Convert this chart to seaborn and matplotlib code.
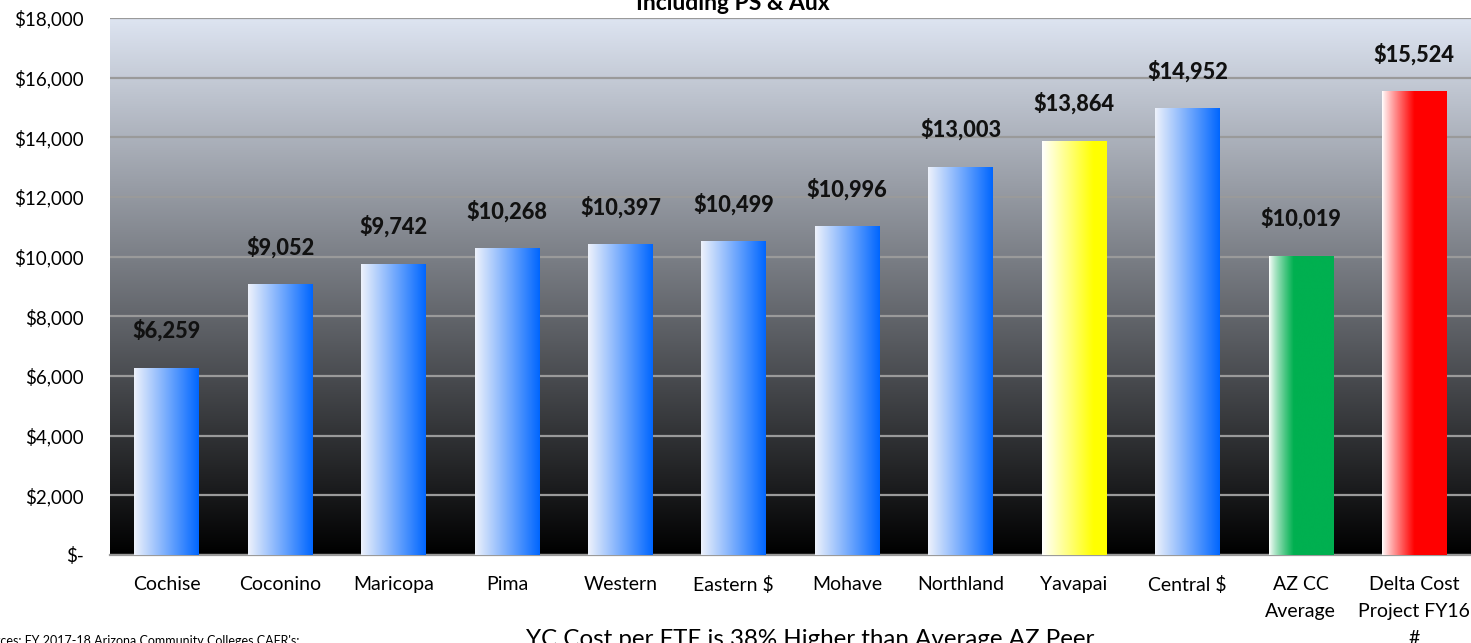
import numpy as np
import pandas as pd
import matplotlib
matplotlib.use("Agg")
import matplotlib.pyplot as plt
from matplotlib.colors import to_rgb
from matplotlib.ticker import FuncFormatter, MultipleLocator
import seaborn as sns

categories = ["Cochise", "Coconino", "Maricopa", "Pima", "Western", "Eastern $",
              "Mohave", "Northland", "Yavapai", "Central $", "AZ CC\nAverage",
              "Delta Cost\nProject FY16\n#"]
values = [6259, 9052, 9742, 10268, 10397, 10499, 10996, 13003, 13864, 14952, 10019, 15524]
bar_colors = ["#0066ff"] * 8 + ["#ffff00", "#0066ff", "#00b050", "#ff0000"]
title = "Including PS & Aux"
subtitle = "YC Cost per FTE is 38% Higher than Average AZ Peer"
source = "Sources: FY 2017-18 Arizona Community Colleges CAFR's;"

sns.set_theme(style="white")
plt.rcParams["font.family"] = ["Lato", "DejaVu Sans"]

W, H = 1471, 643
fig = plt.figure(figsize=(W / 100, H / 100), dpi=100)
ax = fig.add_axes([110 / W, (H - 555) / H, (W - 110) / W, (555 - 18) / H])

df = pd.DataFrame({"cat": categories, "val": values})
sns.barplot(data=df, x="cat", y="val", ax=ax, width=0.57, color="#0066ff", zorder=3)

ax.set_ylim(0, 18000)
ax.set_xlim(-0.5, len(categories) - 0.5)

# background gradient
bg = np.linspace(0, 1, 256)[:, None]
top = np.array(to_rgb("#dde4f1"))
bot = np.array([0.0, 0.0, 0.0])
bg_img = (bot[None, None, :] * (1 - bg[..., None]) + top[None, None, :] * bg[..., None])
ax.imshow(bg_img, extent=[0, 1, 0, 1], transform=ax.transAxes, aspect="auto",
          origin="lower", zorder=0)

# gradient fills for bars
def grad(color, kind):
    c = np.array(to_rgb(color))
    t = np.linspace(0, 1, 200)
    if kind == "blue":
        left = np.array(to_rgb("#eef2fb"))
        f = t
    elif kind == "yellow":
        left = np.array([1.0, 1.0, 1.0])
        f = np.clip(t / 0.8, 0, 1)
    elif kind == "green":
        left = np.array([1.0, 1.0, 1.0])
        f = np.clip(t / 0.38, 0, 1) ** 0.8
    else:
        left = np.array([1.0, 1.0, 1.0])
        f = np.clip(t / 0.5, 0, 1) ** 0.9
    rgb = left[None, :] * (1 - f[:, None]) + c[None, :] * f[:, None]
    return rgb[None, :, :]

kinds = {"#0066ff": "blue", "#ffff00": "yellow", "#00b050": "green", "#ff0000": "red"}
for patch, col, v in zip(ax.patches, bar_colors, values):
    x0 = patch.get_x()
    w = patch.get_width()
    h = patch.get_height()
    patch.set_facecolor("none")
    patch.set_edgecolor("none")
    ax.imshow(grad(col, kinds[col]), extent=[x0, x0 + w, 0, h], aspect="auto",
              origin="lower", zorder=3, interpolation="bilinear")
    ax.annotate(f"${v:,.0f}", (x0 + w / 2, h), xytext=(0, 19), textcoords="offset points",
                ha="center", va="bottom", fontsize=15.7, fontweight="black", color="#111111",
                zorder=5)

ax.set_ylim(0, 18000)
ax.set_xlim(-0.5, len(categories) - 0.5)

ax.yaxis.set_major_locator(MultipleLocator(2000))
ax.yaxis.set_major_formatter(FuncFormatter(lambda v, p: "$-" if v == 0 else f"${v:,.0f}"))
ax.grid(axis="y", color="#9a9a9a", linewidth=1.6, zorder=1)
ax.grid(axis="x", visible=False)
ax.set_axisbelow(False)
for s in ["top", "right", "left"]:
    ax.spines[s].set_visible(False)
ax.spines["bottom"].set_color("#9a9a9a")
ax.spines["bottom"].set_linewidth(1.6)
ax.tick_params(axis="y", length=0, pad=19, labelsize=13.5, labelcolor="black")
ax.tick_params(axis="x", length=0, pad=15, labelsize=14, labelcolor="black")
for lbl in ax.get_xticklabels():
    lbl.set_linespacing(1.72)
ax.set_xlabel("")
ax.set_ylabel("")

fig.text(733 / W, 1 - 10 / H, title, ha="center", va="baseline", fontsize=16.5,
         fontweight="bold", color="black")
fig.text(810 / W, 1 - 646 / H, subtitle, ha="center", va="baseline", fontsize=17.4,
         color="black")
fig.text(-25 / W, 1 - 645 / H, source, ha="left", va="baseline", fontsize=9.0,
         color="black")

fig.savefig("out.png", dpi=100, facecolor="white")
